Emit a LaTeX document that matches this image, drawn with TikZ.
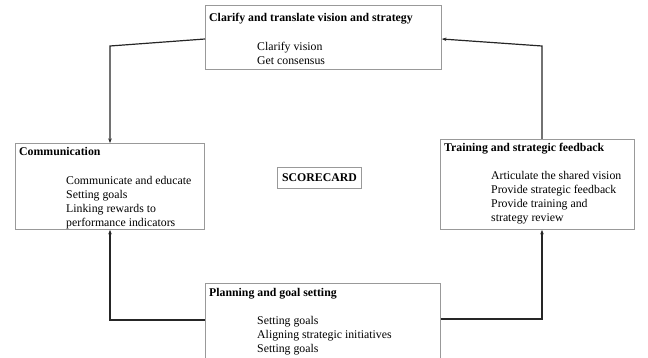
\documentclass[tikz,border=0pt]{standalone}
\usepackage{fontspec}
\setmainfont{Liberation Serif}
\usetikzlibrary{arrows.meta}
\tikzset{
  box/.style={draw=black!40, line width=0.9pt, fill=white, inner sep=0pt, anchor=north west},
  title/.style={font=\fontsize{11.8}{14}\selectfont\bfseries, inner sep=0pt, anchor=north west, align=left},
  items/.style={font=\fontsize{11.8}{14}\selectfont, inner sep=0pt, anchor=north west, align=left},
  link/.style={draw=black!85, line width=1.2pt, -{Stealth[length=4.5pt,width=3.5pt]}},
}
\begin{document}
\begin{tikzpicture}[x=1pt,y=-1pt]
\useasboundingbox (0,0) rectangle (648,358);
% boxes
\node[box, minimum width=236pt, minimum height=64pt] (top) at (205,5) {};
\node[box, minimum width=189pt, minimum height=86pt] (left) at (15,143) {};
\node[box, minimum width=194pt, minimum height=90pt] (right) at (440,139) {};
\node[box, minimum width=235pt, minimum height=80pt] (bottom) at (205,283) {};
\node[draw=black!40, line width=0.9pt, inner xsep=4.5pt, minimum height=21pt, font=\fontsize{11.8}{14}\selectfont\bfseries] (score) at (319.5,177.5) {SCORECARD};
% texts
\node[title] (toptitle) at (209,12.5) {Clarify and translate vision and strategy};
\node[items] (topitems) at (257,41.5) {Clarify vision\\Get consensus};
\node[title] (lefttitle) at (19,147.5) {Communication};
\node[items] (leftitems) at (66,176.5) {Communicate and educate\\Setting goals\\Linking rewards to\\performance indicators};
\node[title] (righttitle) at (444,142.5) {Training and strategic feedback};
\node[items] (rightitems) at (491,171.5) {Articulate the shared vision\\Provide strategic feedback\\Provide training and\\strategy review};
\node[title] (bottomtitle) at (209,288.5) {Planning and goal setting};
\node[items] (bottomitems) at (257,316.5) {Setting goals\\Aligning strategic initiatives\\Setting goals};
% connectors
\coordinate (tl) at (110,46);
\coordinate (tr) at (542,46);
\coordinate (bl) at (110,320);
\coordinate (br) at (542,319);
\draw[link] (top.west |- 0,39) -- (tl) -- (tl |- left.north);
\draw[link] (right.north -| tr) -- (tr) -- (top.east |- 0,39);
\draw[link] (bottom.west |- bl) -- (bl) -- (bl |- left.south);
\draw[link] (bottom.east |- br) -- (br) -- (br |- right.south);
\end{tikzpicture}
\end{document}
